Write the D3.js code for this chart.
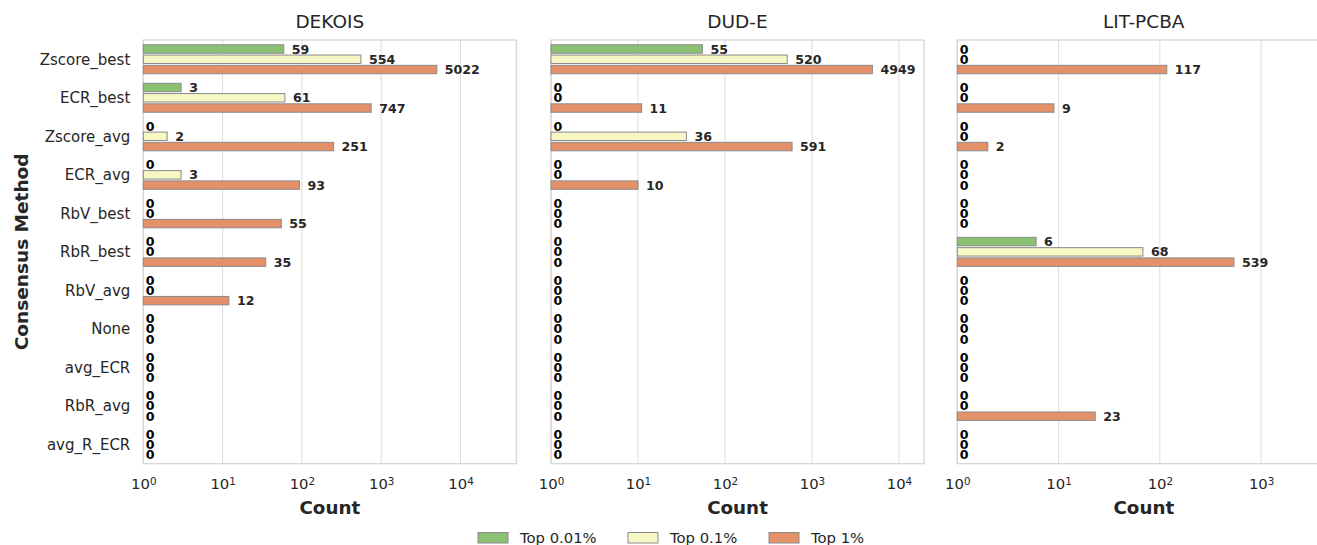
<!DOCTYPE html>
<html>
<head>
<meta charset="utf-8">
<script src="https://cdn.jsdelivr.net/npm/d3@7"></script>
<style>
  html, body { margin: 0; padding: 0; background: #fff; }
  svg { display: block; font-family: "DejaVu Sans", sans-serif; }
</style>
</head>
<body>
<svg id="chart" width="1317" height="545"></svg>
<script>
// Consensus methods (rows, top to bottom)
const methods = ["Zscore_best", "ECR_best", "Zscore_avg", "ECR_avg", "RbV_best", "RbR_best",
                 "RbV_avg", "None", "avg_ECR", "RbR_avg", "avg_R_ECR"];

// Enrichment thresholds (hue groups)
const thresholds = ["Top 0.01%", "Top 0.1%", "Top 1%"];
const thresholdColors = ["#8bc172", "#f7f6c5", "#e4916a"];

// Benchmarks (panels)
const benchmarks = ["DEKOIS", "DUD-E", "LIT-PCBA"];

// Counts per benchmark, per threshold, per method
const dekoisTop001 = [59, 3, 0, 0, 0, 0, 0, 0, 0, 0, 0];
const dekoisTop01  = [554, 61, 2, 3, 0, 0, 0, 0, 0, 0, 0];
const dekoisTop1   = [5022, 747, 251, 93, 55, 35, 12, 0, 0, 0, 0];

const dudeTop001 = [55, 0, 0, 0, 0, 0, 0, 0, 0, 0, 0];
const dudeTop01  = [520, 0, 36, 0, 0, 0, 0, 0, 0, 0, 0];
const dudeTop1   = [4949, 11, 591, 10, 0, 0, 0, 0, 0, 0, 0];

const litTop001 = [0, 0, 0, 0, 0, 6, 0, 0, 0, 0, 0];
const litTop01  = [0, 0, 0, 0, 0, 68, 0, 0, 0, 0, 0];
const litTop1   = [117, 9, 2, 0, 0, 539, 0, 0, 0, 23, 0];

// Upper x limit of each log axis, and tick values
const xUpper = [50500, 19400, 4820];
const xTicks = [[1, 10, 100, 1000, 10000], [1, 10, 100, 1000, 10000], [1, 10, 100, 1000]];

const seriesByBenchmark = [
  [dekoisTop001, dekoisTop01, dekoisTop1],
  [dudeTop001, dudeTop01, dudeTop1],
  [litTop001, litTop01, litTop1]
];

const svg = d3.select("#chart");
const plotTop = 40, plotBottom = 463.7;
const panelLeft = [143.3, 551, 957.3];
const panelWidth = 373;
const textColor = "#262626";

const y = d3.scaleBand().domain(methods).range([plotTop, plotBottom]).padding(0);
const hue = d3.scaleBand().domain(thresholds)
  .range([y.bandwidth() * 0.1, y.bandwidth() * 0.9]);
const barH = hue.bandwidth() * 0.82;

benchmarks.forEach((name, p) => {
  const x0 = panelLeft[p], x1 = x0 + panelWidth;
  const x = d3.scaleLog().domain([1, xUpper[p]]).range([x0, x1]);
  const g = svg.append("g");

  // vertical grid
  g.selectAll("line.grid").data(xTicks[p]).join("line")
    .attr("x1", d => x(d)).attr("x2", d => x(d))
    .attr("y1", plotTop).attr("y2", plotBottom)
    .attr("stroke", "#dcdcdc").attr("stroke-width", 1);

  // frame
  g.append("rect")
    .attr("x", x0).attr("y", plotTop).attr("width", panelWidth).attr("height", plotBottom - plotTop)
    .attr("fill", "none").attr("stroke", "#d4d4d4").attr("stroke-width", 1.25);

  // x axis with power-of-ten labels
  const ax = g.append("g").attr("transform", `translate(0,${plotBottom})`)
    .call(d3.axisBottom(x).tickValues(xTicks[p]).tickSize(0).tickPadding(0));
  ax.select(".domain").remove();
  ax.selectAll("text").each(function (d) {
    const t = d3.select(this);
    t.text(null).attr("y", 25.5).attr("dy", null)
      .attr("font-size", 14.8).attr("fill", textColor)
      .attr("font-family", "DejaVu Sans, sans-serif");
    t.append("tspan").text("10");
    t.append("tspan").attr("dy", "-0.45em").attr("font-size", "0.7em")
      .text(Math.round(Math.log10(d)));
  });

  // panel title
  g.append("text").attr("x", (x0 + x1) / 2).attr("y", 28)
    .attr("text-anchor", "middle").attr("font-size", 18.5).attr("fill", textColor)
    .text(name);

  // x axis title
  g.append("text").attr("x", (x0 + x1) / 2).attr("y", 514)
    .attr("text-anchor", "middle").attr("font-size", 18.3).attr("font-weight", "bold")
    .attr("fill", textColor).text("Count");

  // bars and value labels
  const rows = [];
  seriesByBenchmark[p].forEach((vals, h) => {
    vals.forEach((v, i) => rows.push({ method: methods[i], thr: thresholds[h], h, v }));
  });
  const cy = d => y(d.method) + hue(d.thr) + hue.bandwidth() / 2;

  g.selectAll("rect.bar").data(rows.filter(d => d.v > 0)).join("rect")
    .attr("x", x0)
    .attr("y", d => cy(d) - barH / 2)
    .attr("width", d => x(d.v) - x0)
    .attr("height", barH)
    .attr("fill", d => thresholdColors[d.h])
    .attr("stroke", "#8a8a8a").attr("stroke-width", 1);

  g.selectAll("text.val").data(rows).join("text")
    .attr("x", d => d.v > 0 ? x(d.v) + 8 : x0 + 2.5)
    .attr("y", d => cy(d))
    .attr("dy", "0.36em")
    .attr("font-size", 12.6).attr("font-weight", "bold")
    .attr("fill", d => d.v > 0 ? textColor : "#000")
    .text(d => d.v);

  // method labels on the first panel
  if (p === 0) {
    g.selectAll("text.method").data(methods).join("text")
      .attr("x", x0 - 13).attr("y", d => y(d) + y.bandwidth() / 2)
      .attr("dy", "0.36em").attr("text-anchor", "end")
      .attr("font-size", 15).attr("fill", textColor)
      .text(d => d);
  }
});

// y axis title
svg.append("text")
  .attr("transform", `translate(28,${(plotTop + plotBottom) / 2}) rotate(-90)`)
  .attr("text-anchor", "middle").attr("font-size", 18.5).attr("font-weight", "bold")
  .attr("fill", textColor).text("Consensus Method");

// legend
const legendX = [478, 628, 769];
const legend = svg.append("g");
thresholds.forEach((t, i) => {
  legend.append("rect").attr("x", legendX[i]).attr("y", 532.5)
    .attr("width", 30).attr("height", 10.5)
    .attr("fill", thresholdColors[i]).attr("stroke", "#8a8a8a").attr("stroke-width", 1);
  legend.append("text").attr("x", legendX[i] + 42).attr("y", 542.5)
    .attr("font-size", 14.8).attr("fill", textColor).text(t);
});
</script>
</body>
</html>
